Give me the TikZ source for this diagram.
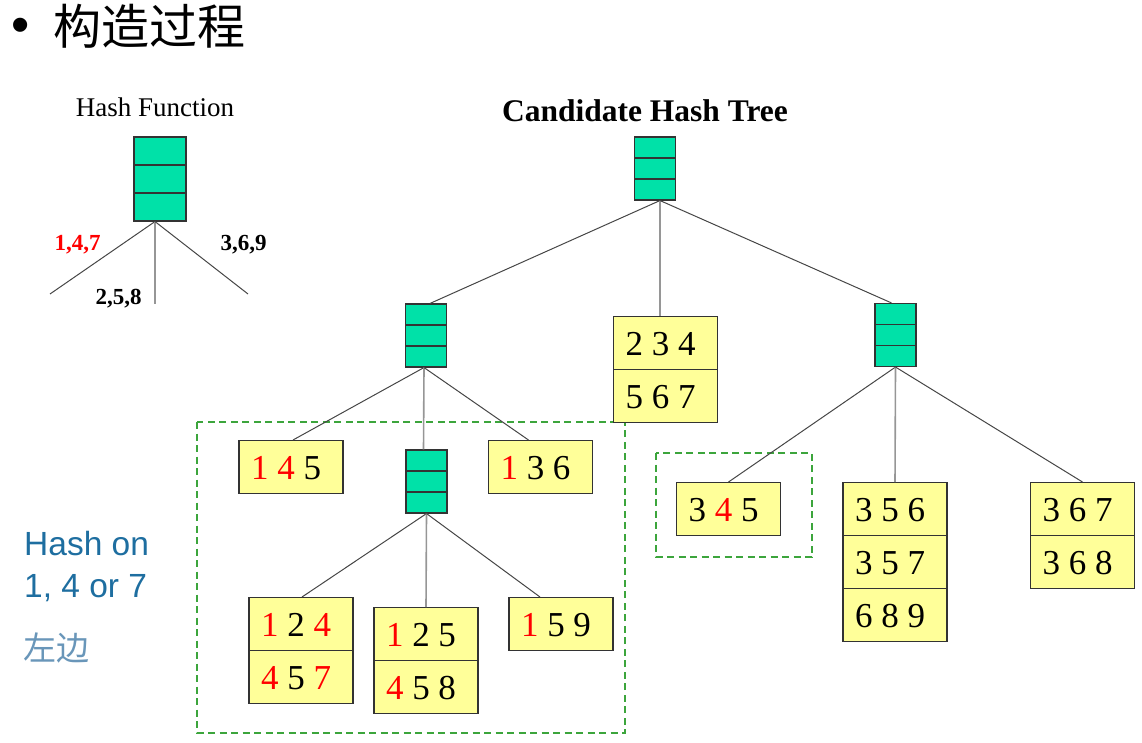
\documentclass[tikz,border=0pt]{standalone}
\usepackage{fontspec}
\setmainfont{Liberation Serif}
\newfontfamily\serf{Liberation Serif}
\newfontfamily\sansf{Liberation Sans}
\newfontfamily\cjk{Noto Sans CJK SC}
\usetikzlibrary{shapes.multipart,calc}
\definecolor{teal1}{RGB}{0,225,168}
\definecolor{leafy}{RGB}{255,255,153}
\definecolor{bord}{RGB}{51,51,51}
\definecolor{dgreen}{RGB}{60,165,60}
\definecolor{hblue}{RGB}{30,110,160}
\definecolor{lblue}{RGB}{105,150,185}
\definecolor{edgec}{RGB}{70,70,70}
\definecolor{vedgec}{RGB}{150,150,150}
\newcommand\rs[1]{#1\hspace*{10pt}\rule[-13.95pt]{0pt}{52pt}}
\newcommand\R[1]{\textcolor{red}{#1}}
\tikzset{
  hnode/.style={draw=bord, fill=teal1, line width=1.1pt, minimum width=41pt,
    minimum height=63pt, inner sep=0pt,
    path picture={
      \draw[bord, line width=1.1pt]
        ($(path picture bounding box.north west)!1/3!(path picture bounding box.south west)$) --
        ($(path picture bounding box.north east)!1/3!(path picture bounding box.south east)$);
      \draw[bord, line width=1.1pt]
        ($(path picture bounding box.north west)!2/3!(path picture bounding box.south west)$) --
        ($(path picture bounding box.north east)!2/3!(path picture bounding box.south east)$);
    }},
  leaf/.style={draw=bord, fill=leafy, line width=1.1pt, rectangle split,
    rectangle split parts=#1, rectangle split part align=left,
    inner xsep=12pt, inner ysep=0pt, anchor=north,
    font=\serf\fontsize{35}{40}\selectfont},
  edge/.style={draw=edgec, line width=1pt},
  vedge/.style={draw=vedgec, line width=1.6pt},
  grp/.style={draw=dgreen, line width=1.2pt, dash pattern=on 7pt off 4.5pt},
  lab/.style={font=\serf\fontsize{23}{25}\selectfont\bfseries, inner sep=0pt, anchor=base},
}
\begin{document}
\begin{tikzpicture}[x=1pt,y=-1pt]
\useasboundingbox (0,0) rectangle (1142,743);
% title
\node[anchor=base west, inner sep=0pt, font=\sansf\fontsize{52}{56}\selectfont] (bul) at (11.5,43) {•};
\node[anchor=base west, inner sep=0pt, font=\cjk\fontsize{48}{52}\selectfont] (title) at (53,45) {构造过程};
% hash function legend
\node[anchor=base, inner sep=0pt, font=\serf\fontsize{27}{30}\selectfont] (hft) at (155,117) {Hash Function};
\node[hnode, minimum width=52pt, minimum height=84pt] (hf) at (160,179) {};
\coordinate (hfl) at (50,294);
\coordinate (hfm) at (155,304);
\coordinate (hfr) at (248,294);
\draw[edge] ([xshift=-5pt]hf.south) -- (hfl);
\draw[vedge] ([xshift=-5pt]hf.south) -- (hfm);
\draw[edge] ([xshift=-5pt]hf.south) -- (hfr);
\node[lab, text=red] (l147) at (77.5,251) {1,4,7};
\node[lab] (l369) at (243.5,251) {3,6,9};
\node[lab] (l258) at (118.5,304) {2,5,8};
% tree title
\node[anchor=base, inner sep=0pt, font=\serf\fontsize{31.5}{34}\selectfont\bfseries] (ctt) at (645,122) {Candidate Hash Tree};
% internal nodes
\node[hnode] (root) at (655,168.5) {};
\node[hnode] (L) at (426,335.5) {};
\node[hnode] (Rn) at (895.5,335) {};
\node[hnode] (M) at (426.5,481.5) {};
% groups
\draw[grp] (197,422) rectangle (625,733);
\draw[grp] (656,453) rectangle (812,557);
% leaves
\node[leaf=2] (b234) at (665.5,316) {\rs{2 3 4}\nodepart{two}\rs{5 6 7}};
\node[leaf=1] (b145) at (291,440) {\rs{\R{1} \R{4} 5}};
\node[leaf=1] (b136) at (540.5,440) {\rs{\R{1} 3 6}};
\node[leaf=2] (b124) at (301,597) {\rs{\R{1} 2 \R{4}}\nodepart{two}\rs{\R{4} 5 \R{7}}};
\node[leaf=2] (b125) at (426,607) {\rs{\R{1} 2 5}\nodepart{two}\rs{\R{4} 5 8}};
\node[leaf=1] (b159) at (561,597) {\rs{\R{1} 5 9}};
\node[leaf=1] (b345) at (728.5,482) {\rs{3 \R{4} 5}};
\node[leaf=3] (b356) at (895,482) {\rs{3 5 6}\nodepart{two}\rs{3 5 7}\nodepart{three}\rs{6 8 9}};
\node[leaf=2] (b367) at (1082.5,482) {\rs{3 6 7}\nodepart{two}\rs{3 6 8}};
% edges
\draw[edge] ([xshift=5pt]root.south) -- ([xshift=4pt]L.north);
\draw[vedge] ([xshift=5pt]root.south) -- ([xshift=-5.5pt]b234.north);
\draw[edge] ([xshift=5pt]root.south) -- ([xshift=-4pt]Rn.north);
\draw[edge] ([xshift=-2pt]L.south) -- ([xshift=2pt]b145.north);
\draw[vedge] ([xshift=-2pt]L.south) -- ([xshift=-3pt]M.north);
\draw[edge] ([xshift=-2pt]L.south) -- ([xshift=-12pt]b136.north);
\draw[edge] (M.south) -- ([xshift=1pt]b124.north);
\draw[vedge] (M.south) -- (b125.north);
\draw[edge] (M.south) -- ([xshift=-21pt]b159.north);
\draw[edge] (Rn.south) -- (b345.north);
\draw[vedge] (Rn.south) -- (b356.north);
\draw[edge] (Rn.south) -- (b367.north);
% side note
\node[anchor=base west, inner sep=0pt, text=hblue, font=\sansf\fontsize{33.5}{36}\selectfont] (h1) at (24,555) {Hash on};
\node[anchor=base west, inner sep=0pt, text=hblue, font=\sansf\fontsize{33.5}{36}\selectfont] (h2) at (24,597) {1, 4 or 7};
\node[anchor=base west, inner sep=0pt, text=lblue, font=\cjk\fontsize{33}{36}\selectfont] (h3) at (23,660) {左边};
\end{tikzpicture}
\end{document}
